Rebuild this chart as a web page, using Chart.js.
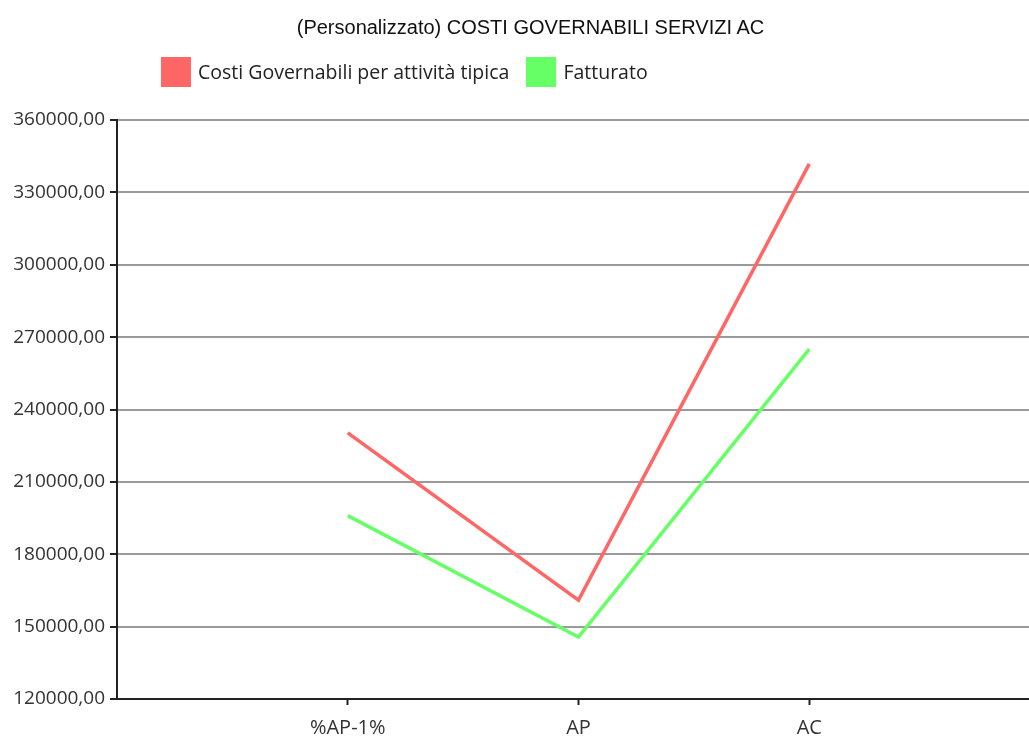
<!DOCTYPE html>
<html>
<head>
<meta charset="utf-8">
<script src="https://cdn.jsdelivr.net/npm/chart.js@4"></script>
<style>
  html, body { margin: 0; padding: 0; background: #fff; overflow: hidden; width: 1029px; height: 738px; }
  #wrap { position: relative; width: 1029px; height: 738px; overflow: hidden; }
  #title { position: absolute; left: 16px; width: 1029px; top: 15px; text-align: center;
           font-family: "Liberation Sans", Arial, sans-serif; font-size: 20px; color: #111; line-height: 24px; }
  #legend { position: absolute; left: 161px; top: 57px; display: flex; align-items: center;
            font-family: "Open Sans", sans-serif; font-size: 19.5px; color: #222; line-height: 30px; }
  .box { width: 30px; height: 30px; display: inline-block; margin-right: 7px; }
  .item { display: flex; align-items: center; margin-right: 17px; }
  canvas { position: absolute; left: 0; top: 0; }
</style>
</head>
<body>
<div id="wrap">
  <canvas id="c" width="1040" height="738"></canvas>
  <div id="title"></div>
  <div id="legend"></div>
</div>
<script>
const chartTitle = "(Personalizzato) COSTI GOVERNABILI SERVIZI AC";
const categories = ["%AP-1%", "AP", "AC"];
const seriesNames = ["Costi Governabili per attività tipica", "Fatturato"];
const costiValues = [230300, 161000, 341800];
const fatturatoValues = [196000, 145700, 265000];
const seriesColors = ["rgb(255,102,102)", "rgb(102,255,102)"];
const yTicks = [120000, 150000, 180000, 210000, 240000, 270000, 300000, 330000, 360000];

document.getElementById('title').textContent = chartTitle;
const leg = document.getElementById('legend');
seriesNames.forEach((n, i) => {
  const it = document.createElement('span'); it.className = 'item';
  const b = document.createElement('span'); b.className = 'box'; b.style.background = seriesColors[i];
  const t = document.createElement('span'); t.textContent = n;
  it.appendChild(b); it.appendChild(t); leg.appendChild(it);
});

const toPoints = vals => vals.map((v, i) => ({x: i, y: v}));

new Chart(document.getElementById('c'), {
  type: 'line',
  data: {
    datasets: [
      { label: seriesNames[0], data: toPoints(costiValues), borderColor: seriesColors[0], borderWidth: 3.5, pointRadius: 0, tension: 0, fill: false },
      { label: seriesNames[1], data: toPoints(fatturatoValues), borderColor: seriesColors[1], borderWidth: 3.5, pointRadius: 0, tension: 0, fill: false }
    ]
  },
  options: {
    responsive: false,
    animation: false,
    layout: { padding: { top: 120, left: 0, right: 0, bottom: 0 } },
    plugins: { legend: { display: false }, title: { display: false }, tooltip: { enabled: false } },
    scales: {
      x: {
        type: 'linear', min: -1, max: 3,
        afterBuildTicks: s => { s.ticks = categories.map((c, i) => ({value: i})); },
        afterFit: s => { s.height = 39; },
        ticks: { callback: (v) => categories[v] ?? '', color: '#333', font: { family: 'Open Sans', size: 20 }, padding: 11, maxRotation: 0 },
        grid: { drawOnChartArea: false, tickLength: 6, tickColor: '#222', tickWidth: 2 },
        border: { color: '#222', width: 2 }
      },
      y: {
        min: 120000, max: 360000,
        afterBuildTicks: s => { s.ticks = yTicks.map(v => ({value: v})); },
        afterFit: s => { s.width = 117; },
        ticks: { callback: v => v.toFixed(2).replace('.', ','), color: '#333', font: { family: 'Open Sans', size: 19 }, padding: 5 },
        grid: { color: '#9a9a9a', lineWidth: 2, tickLength: 7, tickColor: '#222', tickWidth: 2 },
        border: { color: '#222', width: 2 }
      }
    }
  }
});
</script>
</body>
</html>
